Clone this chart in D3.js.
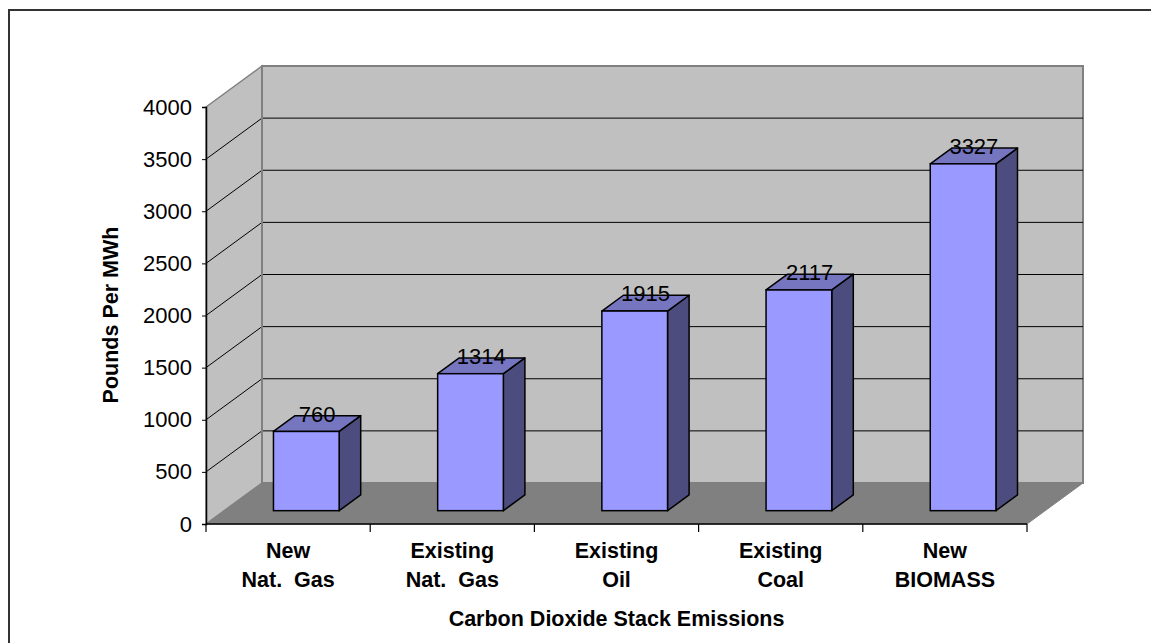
<!DOCTYPE html>
<html>
<head>
<meta charset="utf-8">
<script src="https://cdn.jsdelivr.net/npm/d3@7"></script>
<style>
  body { margin: 0; background: #fff; }
  text { font-family: "Liberation Sans", Arial, sans-serif; }
</style>
</head>
<body>
<svg width="1151" height="643"></svg>
<script>
// chart data
var categories = ["New Nat. Gas", "Existing Nat. Gas", "Existing Oil", "Existing Coal", "New BIOMASS"];
var categoryLines = [["New", "Nat.  Gas"], ["Existing", "Nat.  Gas"], ["Existing", "Oil"], ["Existing", "Coal"], ["New", "BIOMASS"]];
var values = [760, 1314, 1915, 2117, 3327];
var yTicks = [0, 500, 1000, 1500, 2000, 2500, 3000, 3500, 4000];

var svg = d3.select("svg");

// outer frame
svg.append("rect").attr("x", 9).attr("y", 10).attr("width", 1200).attr("height", 700)
    .attr("fill", "none").attr("stroke", "#333").attr("stroke-width", 2);

var x = d3.scaleBand().domain(categories).range([206, 1027]).padding(0);
var y = d3.scaleLinear().domain([0, 4000]).range([524, 107]);

// depth of the 3d box
var depthX = 56, depthY = 41;
// project a point at depth z (0 = front, 1 = back)
function px(xv, z) { return xv + z * depthX; }
function py(yv, z) { return yv - z * depthY; }

var x0 = x.range()[0], x1 = x.range()[1];
var g = svg.append("g");

// side wall
g.append("path")
    .attr("d", d3.line()([[px(x0, 0), y(4000)], [px(x0, 1), py(y(4000), 1)], [px(x0, 1), py(y(0), 1)], [px(x0, 0), y(0)]]) + "Z")
    .attr("fill", "#c0c0c0").attr("stroke", "#808080").attr("stroke-width", 1.5);

// back wall
g.append("path")
    .attr("d", d3.line()([[px(x0, 1), py(y(4000), 1)], [px(x1, 1), py(y(4000), 1)], [px(x1, 1), py(y(0), 1)], [px(x0, 1), py(y(0), 1)]]) + "Z")
    .attr("fill", "#c0c0c0").attr("stroke", "#808080").attr("stroke-width", 2);

// floor
g.append("path")
    .attr("d", d3.line()([[px(x0, 0), y(0)], [px(x0, 1), py(y(0), 1)], [px(x1, 1), py(y(0), 1)], [px(x1, 0), y(0)]]) + "Z")
    .attr("fill", "#808080").attr("stroke", "#808080").attr("stroke-width", 1);

// gridlines on walls
var grid = yTicks.filter(function (d) { return d > 0 && d < 4000; });
g.selectAll(".gridSide").data(grid).enter().append("line")
    .attr("x1", px(x0, 0)).attr("y1", function (d) { return y(d); })
    .attr("x2", px(x0, 1)).attr("y2", function (d) { return py(y(d), 1); })
    .attr("stroke", "#000").attr("stroke-width", 1);
g.selectAll(".gridBack").data(grid).enter().append("line")
    .attr("x1", px(x0, 1)).attr("y1", function (d) { return py(y(d), 1); })
    .attr("x2", px(x1, 1)).attr("y2", function (d) { return py(y(d), 1); })
    .attr("stroke", "#000").attr("stroke-width", 1);

// back wall left edge
g.append("line").attr("x1", px(x0, 1)).attr("y1", py(y(4000), 1)).attr("x2", px(x0, 1)).attr("y2", py(y(0), 1))
    .attr("stroke", "#808080").attr("stroke-width", 2);

// bars
var zFront = 0.325, zBack = 0.71;
var barW = x.bandwidth() * 0.4;
var data = categories.map(function (c, i) { return { cat: c, value: values[i], lines: categoryLines[i] }; });

var bars = g.selectAll(".bar").data(data).enter().append("g").attr("class", "bar");
function barLeft(d) { return x(d.cat) + (x.bandwidth() - barW) / 2; }

bars.append("path") // side
    .attr("d", function (d) {
        var r = barLeft(d) + barW;
        return d3.line()([[px(r, zFront), py(y(d.value), zFront)], [px(r, zBack), py(y(d.value), zBack)],
            [px(r, zBack), py(y(0), zBack)], [px(r, zFront), py(y(0), zFront)]]) + "Z";
    })
    .attr("fill", "#4c4c7e").attr("stroke", "#000").attr("stroke-width", 1.5).attr("stroke-linejoin", "round");

bars.append("path") // top
    .attr("d", function (d) {
        var l = barLeft(d), r = l + barW, t = y(d.value);
        return d3.line()([[px(l, zFront), py(t, zFront)], [px(l, zBack), py(t, zBack)],
            [px(r, zBack), py(t, zBack)], [px(r, zFront), py(t, zFront)]]) + "Z";
    })
    .attr("fill", "#7575c0").attr("stroke", "#000").attr("stroke-width", 1.5).attr("stroke-linejoin", "round");

bars.append("rect") // front
    .attr("x", function (d) { return px(barLeft(d), zFront); })
    .attr("y", function (d) { return py(y(d.value), zFront); })
    .attr("width", barW)
    .attr("height", function (d) { return y(0) - y(d.value); })
    .attr("fill", "#9999ff").attr("stroke", "#000").attr("stroke-width", 1.5);

// value labels
var zMid = (zFront + zBack) / 2;
bars.append("text")
    .attr("x", function (d) { return px(x(d.cat) + x.bandwidth() / 2, zMid); })
    .attr("y", function (d) { return py(y(d.value), zMid) - 2; })
    .attr("text-anchor", "middle").attr("font-size", 22).attr("fill", "#000")
    .text(function (d) { return d.value; });

// y axis
var yAxis = svg.append("g").attr("transform", "translate(" + x0 + ",0)")
    .call(d3.axisLeft(y).tickValues(yTicks).tickSize(4).tickPadding(10).tickFormat(d3.format("d")));
yAxis.selectAll("text").attr("font-size", 22).attr("fill", "#000").style("font-family", "Liberation Sans, Arial, sans-serif");
yAxis.select(".domain").attr("stroke", "#000").attr("stroke-width", 1.5);
yAxis.selectAll(".tick line").attr("stroke", "#000");

// x axis line and category ticks
var xa = svg.append("g");
xa.append("line").attr("x1", x0).attr("x2", x1).attr("y1", y(0)).attr("y2", y(0)).attr("stroke", "#000").attr("stroke-width", 1.5);
var bounds = categories.map(function (c) { return x(c); }).concat([x1]);
xa.selectAll(".xt").data(bounds).enter().append("line")
    .attr("x1", function (d) { return d; }).attr("x2", function (d) { return d; })
    .attr("y1", y(0)).attr("y2", y(0) + 8)
    .attr("stroke", "#000").attr("stroke-width", 1.2);

// category labels
var cl = xa.selectAll(".cl").data(data).enter().append("text")
    .attr("text-anchor", "middle").attr("font-size", 21.5).attr("font-weight", "bold")
    .style("white-space", "pre");
cl.selectAll("tspan").data(function (d) { return d.lines.map(function (l) { return { t: l, c: d.cat }; }); })
    .enter().append("tspan")
    .attr("x", function (d) { return x(d.c) + x.bandwidth() / 2; })
    .attr("y", function (d, i) { return 558 + i * 29; })
    .text(function (d) { return d.t; });

// axis titles
svg.append("text").attr("x", (x0 + x1) / 2).attr("y", 626)
    .attr("text-anchor", "middle").attr("font-size", 21.5).attr("font-weight", "bold")
    .text("Carbon Dioxide Stack Emissions");

svg.append("text").attr("transform", "translate(118,315) rotate(-90)")
    .attr("text-anchor", "middle").attr("font-size", 21.5).attr("font-weight", "bold")
    .text("Pounds Per MWh");
</script>
</body>
</html>
